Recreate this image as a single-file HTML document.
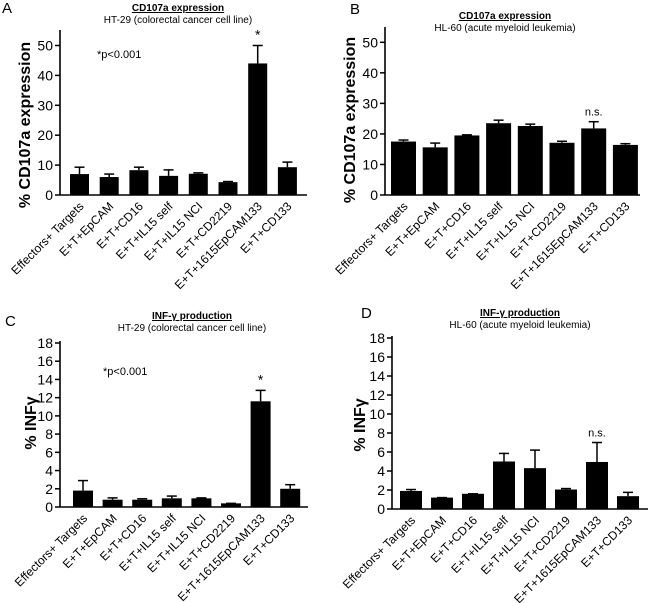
<!DOCTYPE html>
<html><head><meta charset="utf-8">
<style>
html,body{margin:0;padding:0;background:#fff;}
svg{display:block;font-family:"Liberation Sans",Arial,sans-serif;}
</style></head>
<body>
<svg id="fig" width="650" height="603" viewBox="0 0 650 603" xmlns="http://www.w3.org/2000/svg"></svg>
<script>
const categories = ["Effectors+ Targets","E+T+EpCAM","E+T+CD16","E+T+IL15 self","E+T+IL15 NCI","E+T+CD2219","E+T+1615EpCAM133","E+T+CD133"];
const valuesA = [7, 6, 8.3, 6.4, 7.1, 4.3, 44, 9.3];
const errorsA = [9.3, 7, 9.3, 8.4, 7.4, 4.5, 50, 11];
const valuesB = [17.5, 15.6, 19.5, 23.5, 22.6, 17.1, 21.8, 16.4];
const errorsB = [18, 17, 19.7, 24.5, 23.2, 17.6, 24, 16.8];
const valuesC = [1.8, 0.8, 0.8, 0.95, 0.95, 0.4, 11.6, 2.0];
const errorsC = [2.9, 1.0, 0.9, 1.2, 1.0, 0.4, 12.8, 2.45];
const valuesD = [1.9, 1.2, 1.6, 5.0, 4.3, 2.05, 4.95, 1.35];
const errorsD = [2.05, 1.2, 1.6, 5.85, 6.2, 2.15, 7.0, 1.75];
const ticksCD107 = [0, 10, 20, 30, 40, 50];
const ticksINF = [0, 2, 4, 6, 8, 10, 12, 14, 16, 18];

const NS = "http://www.w3.org/2000/svg";
const svg = document.getElementById('fig');
function mk(tag, attrs, parent, text){
  const e = document.createElementNS(NS, tag);
  for (const k in attrs) e.setAttribute(k, attrs[k]);
  if (text !== undefined) e.textContent = text;
  (parent || svg).appendChild(e);
  return e;
}

function panel(p){
  const g = mk('g', {});
  
  
  const y = v => p.zeroY - (v / p.yMax) * (p.zeroY - p.maxY);
  const bx = i => p.firstX + i * p.step;

  const letter = mk('text', {x: p.letterX, y: p.letterY, 'font-size': 15}, g, p.id);
  
  
  const t = mk('text', {x: p.titleX, y: p.titleY, 'font-size': 10, 'font-weight': 'bold', 'text-anchor': 'middle', 'text-decoration': 'underline'}, g, p.title);
  
  
  const st = mk('text', {x: p.titleX, y: p.titleY + 12, 'font-size': 10, 'text-anchor': 'middle'}, g, p.subtitle);
  
  

  const ya = mk('line', {x1: p.axisX, x2: p.axisX, y1: p.topY, y2: p.zeroY, stroke: '#000', 'stroke-width': 1.6}, g);
  
  
  const xa = mk('line', {x1: p.axisX, x2: p.endX, y1: p.zeroY, y2: p.zeroY, stroke: '#000', 'stroke-width': 1.6}, g);
  
  

  p.ticks.forEach(v => {
    const tk = mk('line', {x1: p.axisX - 5, x2: p.axisX, y1: y(v), y2: y(v), stroke: '#000', 'stroke-width': 1.5}, g);
    
    
    const tl = mk('text', {x: p.axisX - 7, y: y(v) + 5, 'font-size': 14, 'text-anchor': 'end'}, g, String(v));
    
    
  });

  const yt = mk('text', {transform: `translate(${p.yTitleX},${p.yTitleY}) rotate(-90)`, 'font-size': 16, 'font-weight': 'bold', 'text-anchor': 'middle'}, g, p.yTitle);
  
  

  p.values.forEach((v, i) => {
    const cx = bx(i) + p.barW / 2;
    const eb = mk('line', {x1: cx, x2: cx, y1: y(v), y2: y(p.errors[i]), stroke: '#000', 'stroke-width': 1.5}, g);
    
    
    const cap = mk('line', {x1: cx - 5, x2: cx + 5, y1: y(p.errors[i]), y2: y(p.errors[i]), stroke: '#000', 'stroke-width': 1.5}, g);
    
    
    const r = mk('rect', {x: bx(i), y: y(v), width: p.barW, height: p.zeroY - y(v), fill: '#000'}, g);
    
    
    const lx = cx + 5, ly = p.zeroY + 12;
    const lb = mk('text', {transform: `translate(${lx},${ly}) rotate(-45)`, 'font-size': 12, 'text-anchor': 'end'}, g, categories[i]);
    
    
  });

  if (p.pText){
    const pt = mk('text', {x: p.pX, y: p.pY, 'font-size': 11}, g, '*p<0.001');
    
    
  }
  const si = p.sigIndex;
  const sx = bx(si) + p.barW / 2;
  const sig = mk('text', {x: sx, y: y(p.errors[si]) - 6, 'font-size': p.sig === '*' ? 14 : 11, 'text-anchor': 'middle'}, g, p.sig);
  
  
}

panel({id: 'A', values: valuesA, errors: errorsA, ticks: ticksCD107, yMax: 50,
  axisX: 60, zeroY: 195, maxY: 45.5, topY: 30, endX: 307, firstX: 70, step: 29.7, barW: 19,
  letterX: 2, letterY: 13, titleX: 178, titleY: 11, title: 'CD107a  expression', subtitle: 'HT-29 (colorectal  cancer cell  line)',
  yTitle: '% CD107a expression', yTitleX: 30, yTitleY: 125, pText: true, pX: 97, pY: 58, sig: '*', sigIndex: 6});
panel({id: 'B', values: valuesB, errors: errorsB, ticks: ticksCD107, yMax: 50,
  axisX: 385, zeroY: 195, maxY: 42.3, topY: 27, endX: 640, firstX: 391, step: 31.7, barW: 25,
  letterX: 350, letterY: 14, titleX: 505, titleY: 19, title: 'CD107a expression', subtitle: 'HL-60 (acute myeloid  leukemia)',
  yTitle: '% CD107a expression', yTitleX: 355, yTitleY: 120, pText: false, sig: 'n.s.', sigIndex: 6});
panel({id: 'C', values: valuesC, errors: errorsC, ticks: ticksINF, yMax: 18,
  axisX: 60, zeroY: 507, maxY: 343, topY: 341, endX: 308, firstX: 73, step: 29.6, barW: 20,
  letterX: 5, letterY: 326, titleX: 192, titleY: 319, title: 'INF-γ production', subtitle: 'HT-29 (colorectal cancer cell line)',
  yTitle: '% INFγ', yTitleX: 36, yTitleY: 423, pText: true, pX: 103, pY: 375, sig: '*', sigIndex: 6});
panel({id: 'D', values: valuesD, errors: errorsD, ticks: ticksINF, yMax: 18,
  axisX: 392, zeroY: 509, maxY: 338, topY: 336, endX: 648, firstX: 400, step: 31, barW: 22,
  letterX: 361, letterY: 318, titleX: 520, titleY: 316, title: 'INF-γ production', subtitle: 'HL-60 (acute myeloid  leukemia)',
  yTitle: '% INFγ', yTitleX: 365, yTitleY: 425, pText: false, sig: 'n.s.', sigIndex: 6});
</script>
</body></html>
